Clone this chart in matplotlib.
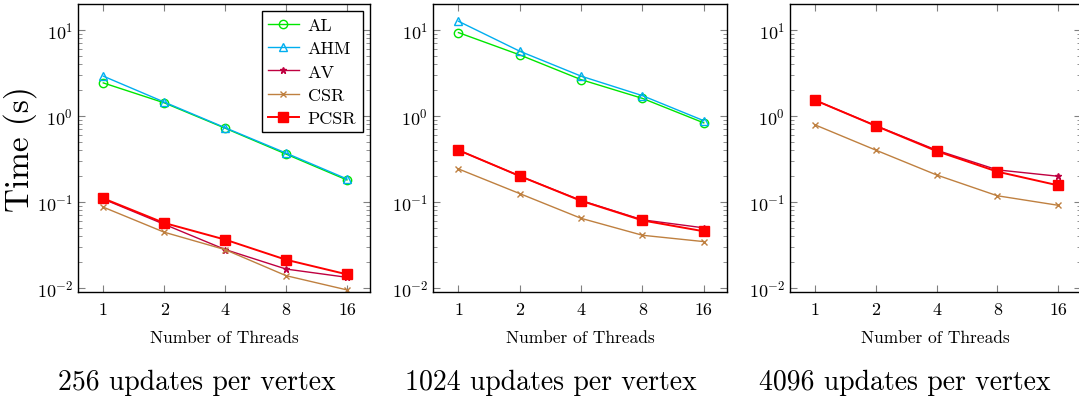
import matplotlib
matplotlib.use("Agg")
import matplotlib.pyplot as plt
from matplotlib.ticker import LogLocator, NullFormatter, NullLocator

plt.rcParams['font.family'] = 'serif'
plt.rcParams['font.serif'] = ['cmr10']
plt.rcParams['mathtext.fontset'] = 'cm'
plt.rcParams['axes.formatter.use_mathtext'] = True

threads = [1, 2, 4, 8, 16]
captions = ["256 updates per vertex", "1024 updates per vertex", "4096 updates per vertex"]

# panel 1: 256 updates per vertex
al_256 = [2.42, 1.42, 0.72, 0.36, 0.18]
ahm_256 = [2.9, 1.45, 0.73, 0.37, 0.185]
av_256 = [0.108, 0.055, 0.028, 0.0166, 0.0133]
csr_256 = [0.087, 0.0445, 0.0279, 0.0139, 0.0095]
pcsr_256 = [0.11, 0.057, 0.0365, 0.0213, 0.0144]

# panel 2: 1024 updates per vertex
al_1024 = [9.3, 5.12, 2.64, 1.6, 0.83]
ahm_1024 = [12.6, 5.65, 2.9, 1.72, 0.88]
av_1024 = [0.40, 0.20, 0.104, 0.062, 0.050]
csr_1024 = [0.242, 0.125, 0.0645, 0.041, 0.0346]
pcsr_1024 = [0.40, 0.20, 0.103, 0.061, 0.0456]

# panel 3: 4096 updates per vertex (no AL / AHM)
av_4096 = [1.52, 0.77, 0.40, 0.236, 0.199]
csr_4096 = [0.786, 0.40, 0.206, 0.118, 0.0915]
pcsr_4096 = [1.52, 0.765, 0.39, 0.225, 0.156]

panels = [
    {"AL": al_256, "AHM": ahm_256, "AV": av_256, "CSR": csr_256, "PCSR": pcsr_256},
    {"AL": al_1024, "AHM": ahm_1024, "AV": av_1024, "CSR": csr_1024, "PCSR": pcsr_1024},
    {"AV": av_4096, "CSR": csr_4096, "PCSR": pcsr_4096},
]

styles = {
    "AL": dict(color="#00e600", marker="o", mfc="none", ms=6, lw=1.0, mew=1.0),
    "AHM": dict(color="#00aeef", marker="^", mfc="none", ms=6, lw=1.0, mew=1.0),
    "AV": dict(color="#bf0040", marker="*", ms=5, lw=1.0),
    "CSR": dict(color="#bf8040", marker="x", ms=4, lw=1.0, mew=1.0),
    "PCSR": dict(color="#ff0000", marker="s", ms=7, lw=1.4),
}

W, H = 1079, 402
fig = plt.figure(figsize=(W / 100, H / 100), dpi=100)

# axes boxes in pixels: left, top, right, bottom
boxes = [(78, 5, 370, 293), (433, 5, 727, 293), (790, 5, 1081, 293)]
cap_x = [197, 551, 905]

for i, (data, box) in enumerate(zip(panels, boxes)):
    l, t, r, b = box
    ax = fig.add_axes([l / W, (H - b) / H, (r - l) / W, (b - t) / H])
    for name in ["AL", "AHM", "AV", "CSR", "PCSR"]:
        if name in data:
            ax.plot(threads, data[name], label=name, **styles[name])
    ax.set_xscale("log", base=2)
    ax.set_yscale("log")
    ax.set_xlim(0.75, 20.8)
    ax.set_ylim(0.00898, 20)
    ax.set_xticks(threads)
    ax.set_xticklabels([str(n) for n in threads])
    ax.xaxis.set_minor_locator(NullLocator())
    ax.yaxis.set_major_locator(LogLocator(base=10, numticks=10))
    ax.yaxis.set_minor_locator(LogLocator(base=10, subs=range(2, 10), numticks=20))
    ax.yaxis.set_minor_formatter(NullFormatter())
    ax.tick_params(which="both", direction="in", top=True, right=True,
                   color="#808080", labelsize=13)
    ax.tick_params(which="major", length=5, width=0.8)
    ax.tick_params(which="minor", length=3, width=0.6)
    ax.tick_params(axis="x", pad=7)
    for s in ax.spines.values():
        s.set_linewidth(1.0)
    ax.set_xlabel("Number of Threads", fontsize=12.5, labelpad=9)
    if i == 0:
        ax.set_ylabel("Time (s)", fontsize=24, labelpad=0)
        leg = ax.legend(loc="upper right", fontsize=13, frameon=True, fancybox=False,
                        edgecolor="black", framealpha=1, handlelength=1.7,
                        borderpad=0.35, labelspacing=0.42, handletextpad=0.5,
                        borderaxespad=0.4)
        leg.get_frame().set_linewidth(1.0)
    fig.text(cap_x[i] / W, 1 - 383 / H, captions[i], ha="center", va="center", fontsize=20)

fig.savefig("out.png", dpi=100)
